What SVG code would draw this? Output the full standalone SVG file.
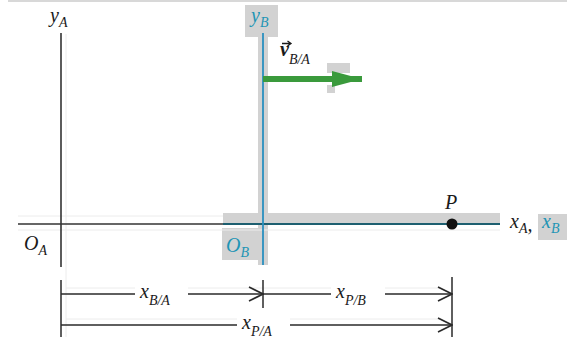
<svg xmlns="http://www.w3.org/2000/svg" width="567" height="344" viewBox="0 0 567 344">
<style>
.t{font-family:"Liberation Serif","DejaVu Serif",serif;font-style:italic;font-size:20px;fill:#1a1a1a}
.s{font-size:14px}
.tb{fill:#1f95b5}
.ax{stroke:#333;stroke-width:1.6;fill:none}
.dim{stroke:#2a2a2a;stroke-width:1.5;fill:none}
.band{fill:#d2d2d2}
.halo{stroke:#ececec;stroke-width:1;fill:none}
</style>
<defs>
<marker id="open" markerWidth="16" markerHeight="16" refX="15" refY="8" orient="auto" markerUnits="userSpaceOnUse">
<path d="M1,1 L15,8 L1,15" fill="none" stroke="#2a2a2a" stroke-width="1.6"/>
</marker>
<marker id="green" markerWidth="32" markerHeight="18" refX="30" refY="9" orient="auto" markerUnits="userSpaceOnUse">
<path d="M0,1 L30,9 L0,17 Z" fill="#3a9a3c"/>
</marker>
</defs>
<rect width="567" height="344" fill="#fff"/>
<line x1="8" y1="1" x2="567" y2="1" stroke="#d8d8d8" stroke-width="2"/>

<g id="backgrounds">
<rect class="band" x="223" y="213" width="277" height="12"/>
<rect class="band" x="258" y="33" width="10" height="232"/>
<rect class="band" x="245" y="5" width="33" height="32"/>
<rect class="band" x="222" y="228" width="36" height="32"/>
<rect class="band" x="327" y="63" width="23" height="10"/>
<rect class="band" x="327" y="85" width="8" height="8"/>
<rect class="band" x="538" y="214" width="29" height="26"/>
</g>

<g id="halos">
<line class="halo" x1="66" y1="34" x2="66" y2="337"/>
<line class="halo" x1="18" y1="216" x2="223" y2="216"/>
<line class="halo" x1="18" y1="230" x2="500" y2="230"/>
<line class="halo" x1="66" y1="288" x2="440" y2="288"/>
<line class="halo" x1="66" y1="319" x2="440" y2="319"/>
</g>

<g id="connectors">
<line id="yA-axis" class="ax" x1="61" y1="33" x2="61" y2="267"/>
<line id="xA-axis" class="ax" x1="18" y1="224" x2="223" y2="224"/>
<line id="xB-axis" x1="223" y1="224" x2="500" y2="224" stroke="#1d5f70" stroke-width="2"/>
<line id="yB-axis" x1="263" y1="33" x2="263" y2="265" stroke="#2a8fbf" stroke-width="1.8"/>
<line id="v-arrow" x1="263" y1="79" x2="362" y2="79" stroke="#3a9a3c" stroke-width="6" marker-end="url(#green)"/>
<line class="dim" x1="61" y1="280" x2="61" y2="337"/>
<line class="dim" x1="263" y1="280" x2="263" y2="308"/>
<line class="dim" x1="452" y1="277" x2="452" y2="337"/>
<line class="dim" x1="61" y1="294" x2="263" y2="294" marker-end="url(#open)"/>
<line class="dim" x1="263" y1="294" x2="452" y2="294" marker-end="url(#open)"/>
<line class="dim" x1="61" y1="325" x2="452" y2="325" marker-end="url(#open)"/>
</g>

<g id="labels">
<rect x="135" y="284" width="53" height="24" fill="#fff"/>
<rect x="331" y="284" width="54" height="24" fill="#fff"/>
<rect x="237" y="315" width="53" height="26" fill="#fff"/>
</g>

<g id="node-yA"><text class="t" x="50" y="22">y<tspan class="s" dy="5">A</tspan></text></g>
<g id="node-yB"><text class="t tb" x="251" y="22">y<tspan class="s" dy="5">B</tspan></text></g>
<g id="node-v"><text class="t" x="280" y="56" font-weight="bold">v<tspan class="s" dy="8" font-weight="normal">B/A</tspan></text><path d="M282,43.5 L290,43.5 M287.5,41 L291,43.5 L287.5,46" fill="none" stroke="#1a1a1a" stroke-width="1.3"/></g>
<g id="node-P"><circle cx="452" cy="224" r="5.5" fill="#111"/><text class="t" x="445" y="209">P</text></g>
<g id="node-xA"><text class="t" x="510" y="228">x<tspan class="s" dy="5">A</tspan><tspan dy="-2">,</tspan></text></g>
<g id="node-xB"><text class="t tb" x="542" y="228">x<tspan class="s" dy="5">B</tspan></text></g>
<g id="node-OA"><text class="t" x="24" y="250">O<tspan class="s" dy="5">A</tspan></text></g>
<g id="node-OB"><text class="t tb" x="226" y="252">O<tspan class="s" dy="5">B</tspan></text></g>
<g id="node-xBA"><text class="t" x="140" y="298">x<tspan class="s" dy="7">B/A</tspan></text></g>
<g id="node-xPB"><text class="t" x="336" y="298">x<tspan class="s" dy="7">P/B</tspan></text></g>
<g id="node-xPA"><text class="t" x="242" y="329">x<tspan class="s" dy="7">P/A</tspan></text></g>
</svg>
